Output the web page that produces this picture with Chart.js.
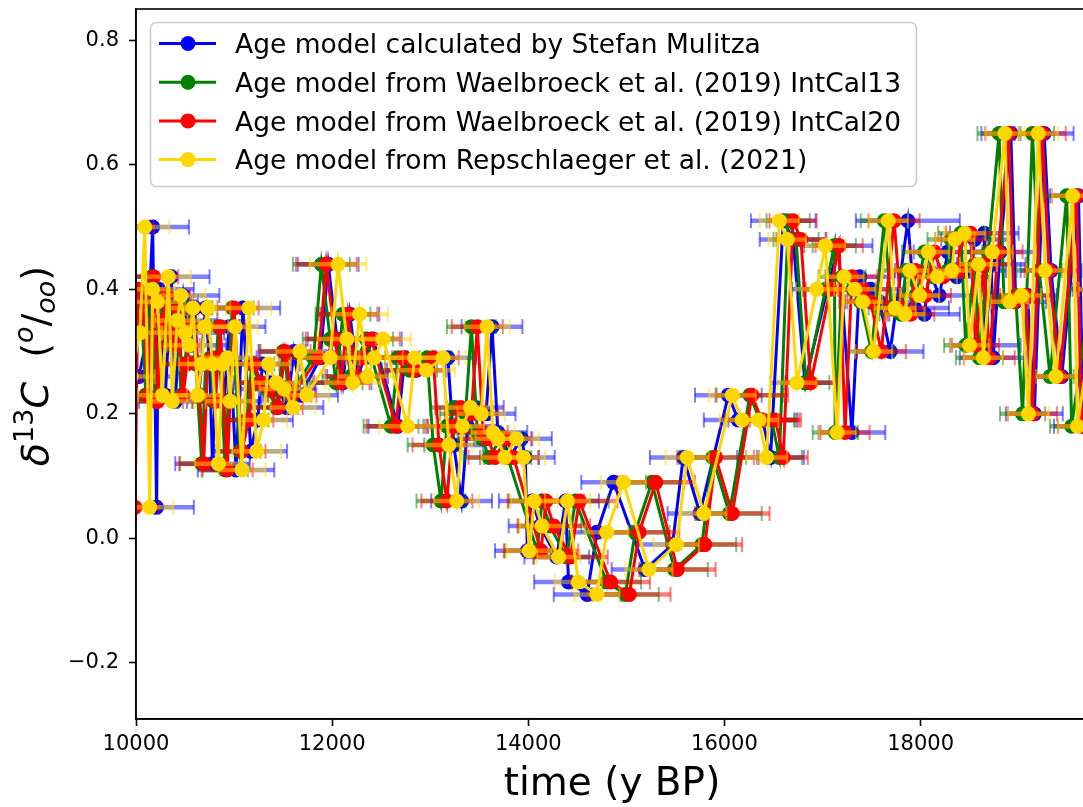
<!DOCTYPE html>
<html><head><meta charset="utf-8">
<script src="https://cdn.jsdelivr.net/npm/chart.js@4.4.1/dist/chart.umd.min.js"></script>
<style>html,body{margin:0;padding:0;overflow:hidden;background:#fff}#wrap{width:1083px;height:807px;overflow:hidden;position:relative}</style>
</head><body><div id="wrap"><canvas id="c" width="1100" height="807"></canvas></div>
<script>
// delta13C values (same samples for all four age models)
const d13C = [0.26,0.33,0.50,0.05,0.40,0.38,0.23,0.42,0.22,0.35,
0.39,0.33,0.31,0.37,0.23,0.28,0.34,0.37,0.28,0.12,
0.28,0.29,0.22,0.34,0.11,0.37,0.14,0.19,0.28,0.25,
0.24,0.21,0.30,0.23,0.29,0.44,0.32,0.25,0.36,0.26,
0.29,0.32,0.18,0.29,0.27,0.29,0.15,0.06,0.18,0.21,
0.20,0.34,0.17,0.16,0.13,0.16,0.13,-0.02,0.06,0.02,
-0.03,0.06,-0.07,-0.09,0.01,0.09,-0.05,-0.01,0.13,0.04,
0.23,0.19,0.19,0.13,0.51,0.48,0.25,0.40,0.47,0.17,
0.42,0.40,0.38,0.30,0.51,0.37,0.36,0.43,0.39,0.46,
0.42,0.43,0.48,0.49,0.31,0.44,0.29,0.46,0.65,0.38,
0.39,0.20,0.65,0.43,0.26,0.55,0.18,0.40];

const ageMulitza = [10030,10120,10170,10210,10230,10260,10300,10360,10400,10450,
10480,10520,10560,10600,10640,10670,10690,10710,10750,10780,
10820,10870,10900,10950,11020,11090,11170,11240,11290,11370,
11450,11540,11610,11680,11880,11960,12050,12110,12180,12260,
12330,12420,12670,12740,12860,13180,13240,13320,13380,13460,
13570,13630,13690,13740,13810,13930,13970,13990,14040,14120,
14290,14380,14410,14600,14700,14870,15190,15470,15580,15750,
16040,16140,16390,16470,16600,16700,16820,17050,17160,17300,
17380,17490,17580,17690,17870,17940,18040,18090,18190,18280,
18370,18520,18550,18650,18660,18720,18740,18810,18920,18970,
19090,19160,19260,19330,19440,19610,19660,19860];

const ageW13 = [9780,9870,9920,9970,10000,10050,10100,10160,10200,10250,
10290,10330,10370,10410,10460,10500,10530,10560,10610,10670,
10710,10760,10790,10840,10910,10980,11060,11130,11180,11260,
11340,11430,11500,11570,11810,11890,11980,12040,12110,12190,
12260,12350,12600,12670,12790,12970,13030,13110,13170,13250,
13360,13420,13480,13530,13600,13720,13790,14090,14140,14220,
14390,14480,14800,14990,15090,15260,15490,15770,15880,16050,
16260,16360,16480,16560,16650,16730,16830,17030,17120,17130,
17200,17310,17390,17500,17630,17700,17800,17850,17950,18040,
18130,18280,18310,18410,18460,18550,18600,18690,18800,18850,
18970,19040,19140,19210,19320,19490,19540,19740];

const ageW20 = [9800,9890,9940,9990,10020,10070,10120,10180,10220,10270,
10310,10350,10390,10430,10480,10520,10550,10580,10630,10690,
10730,10780,10810,10860,10930,11000,11080,11150,11200,11280,
11360,11450,11520,11590,11860,11940,12030,12090,12160,12240,
12310,12400,12650,12720,12840,13030,13090,13170,13230,13310,
13420,13480,13540,13590,13660,13780,13850,14130,14180,14260,
14430,14520,14840,15030,15130,15300,15520,15800,15910,16080,
16280,16380,16520,16600,16700,16780,16880,17080,17170,17230,
17300,17410,17490,17600,17730,17800,17900,17950,18050,18140,
18230,18380,18410,18510,18560,18650,18700,18790,18900,18950,
19070,19140,19240,19310,19420,19590,19640,19840];

const ageRep = [9950,10040,10090,10140,10170,10220,10270,10330,10370,10420,
10460,10500,10540,10580,10630,10670,10700,10730,10780,10840,
10880,10930,10960,11010,11080,11150,11230,11300,11350,11430,
11510,11600,11670,11740,11980,12060,12150,12210,12280,12360,
12430,12520,12770,12840,12960,13130,13190,13270,13330,13410,
13520,13580,13640,13690,13760,13880,13950,14010,14060,14140,
14310,14400,14510,14700,14800,14970,15230,15510,15620,15790,
16080,16180,16350,16430,16560,16640,16740,16940,17030,17150,
17220,17330,17410,17520,17670,17740,17840,17890,17990,18080,
18170,18320,18350,18450,18500,18590,18640,18730,18860,18910,
19030,19100,19200,19270,19380,19550,19600,19800];

// age uncertainties (years, half-width)
const errMulitza = [380,390,370,380,360,370,380,390,370,380,
370,380,360,370,380,370,360,380,370,380,
370,360,380,370,390,380,370,360,380,370,
380,370,360,380,300,310,300,290,300,310,
300,290,300,310,300,290,300,310,300,290,
300,310,300,290,300,310,300,330,340,320,
330,340,350,340,350,330,340,350,340,330,
340,350,350,340,330,340,350,360,350,340,
350,360,350,340,530,350,360,350,340,350,
360,350,340,350,360,350,340,350,300,310,
300,290,300,310,300,290,300,310];
const errW13 = [220,230,210,220,230,220,210,220,230,220,
210,220,230,220,210,220,230,220,210,220,
230,220,210,220,230,220,210,220,230,220,
210,220,230,220,280,290,280,270,280,290,
280,270,280,290,280,250,260,250,240,250,
260,250,240,250,260,250,240,330,340,320,
330,340,350,340,350,330,340,350,340,330,
340,350,240,230,220,230,240,230,220,230,
240,230,220,230,240,230,220,230,240,230,
220,230,240,230,220,230,240,230,220,230,
240,230,220,230,240,230,220,230];
const errW20 = [250,260,240,250,260,250,240,250,260,250,
240,250,260,250,240,250,260,250,240,250,
260,250,240,250,260,250,240,250,260,250,
240,250,260,250,300,310,300,290,300,310,
300,290,300,310,300,260,270,260,250,260,
270,260,250,260,270,260,250,380,390,370,
380,390,400,420,410,400,390,380,390,380,
370,380,260,250,240,250,260,250,240,250,
260,250,240,250,260,250,240,250,260,250,
240,250,260,250,240,250,260,250,240,250,
260,250,240,250,260,250,240,250];
const errRep = [240,230,250,240,230,240,250,230,240,230,
250,240,230,240,250,230,240,230,250,240,
230,240,250,230,240,230,250,240,230,240,
250,230,240,230,300,290,300,280,290,300,
290,280,290,300,290,230,240,230,220,230,
240,230,220,230,240,230,220,230,240,230,
220,230,240,230,220,230,240,230,220,230,
240,230,200,210,200,190,200,210,200,190,
200,210,200,190,200,210,200,190,200,210,
200,190,200,210,200,190,200,210,200,190,
200,210,200,190,200,210,200,190];

const seriesLabels = ['Age model calculated by Stefan Mulitza',
  'Age model from Waelbroeck et al. (2019) IntCal13',
  'Age model from Waelbroeck et al. (2019) IntCal20',
  'Age model from Repschlaeger et al. (2021)'];
const seriesColors = ['#0000ff', '#008000', '#ff0000', '#ffd700'];

const xTicks = [10000, 12000, 14000, 16000, 18000];
const xTickLabels = ['10000', '12000', '14000', '16000', '18000'];
const yTicks = [-0.2, 0.0, 0.2, 0.4, 0.6, 0.8];
const yTickLabels = ['\u22120.2', '0.0', '0.2', '0.4', '0.6', '0.8'];
const xTitle = 'time (y BP)';
// y-axis title: δ^13 C  ( ^o / _oo ) as text pieces [text, role]
const yTitleParts = [['\u03B4', 'main-it'], ['13', 'sup'], ['C', 'main-it'], ['  (', 'main'],
                     ['o', 'sup-it'], ['/', 'main'], ['oo', 'sub-it'], [')', 'main']];

const seriesDefs = [
  {ages: ageMulitza, err: errMulitza, order: 4},
  {ages: ageW13, err: errW13, order: 3},
  {ages: ageW20, err: errW20, order: 2},
  {ages: ageRep, err: errRep, order: 1}
].map((s, i) => Object.assign(s, {label: seriesLabels[i], color: seriesColors[i]}));

function rgba(hex, a) {
  const n = parseInt(hex.slice(1), 16);
  return 'rgba(' + ((n >> 16) & 255) + ',' + ((n >> 8) & 255) + ',' + (n & 255) + ',' + a + ')';
}

const FONT = "'DejaVu Sans', sans-serif";
Chart.defaults.font.family = FONT;
Chart.defaults.color = '#000';

const errorBars = {
  id: 'errorBars',
  beforeDatasetDraw(chart, args) {
    const s = seriesDefs[args.index];
    const xs = chart.scales.x, ys = chart.scales.y, a = chart.chartArea, ctx = chart.ctx;
    ctx.save();
    ctx.beginPath();
    ctx.rect(a.left, a.top, a.right - a.left, a.bottom - a.top);
    ctx.clip();
    ctx.strokeStyle = rgba(s.color, 0.5);
    s.ages.forEach((age, i) => {
      const x0 = xs.getPixelForValue(age - s.err[i]);
      const x1 = xs.getPixelForValue(age + s.err[i]);
      const y = ys.getPixelForValue(d13C[i]);
      ctx.lineWidth = 4.5;
      ctx.beginPath(); ctx.moveTo(x0, y); ctx.lineTo(x1, y); ctx.stroke();
      ctx.lineWidth = 2;
      ctx.beginPath(); ctx.moveTo(x0, y - 7.5); ctx.lineTo(x0, y + 7.5); ctx.stroke();
      ctx.beginPath(); ctx.moveTo(x1, y - 7.5); ctx.lineTo(x1, y + 7.5); ctx.stroke();
    });
    ctx.restore();
  }
};

const spines = {
  id: 'spines',
  afterDatasetsDraw(chart) {
    const a = chart.chartArea, ctx = chart.ctx;
    ctx.save();
    ctx.strokeStyle = '#000';
    ctx.lineWidth = 1.6;
    ctx.strokeRect(a.left, a.top, a.right - a.left, a.bottom - a.top);
    ctx.restore();
  }
};

const yTitleDraw = {
  id: 'yTitleDraw',
  afterDraw(chart) {
    const ctx = chart.ctx, a = chart.chartArea;
    const roles = {
      'main': {font: "normal 38px " + FONT, dy: 0},
      'main-it': {font: "italic 38px " + FONT, dy: 0},
      'sup': {font: "normal 27px " + FONT, dy: -15},
      'sup-it': {font: "italic 27px " + FONT, dy: -15},
      'sub-it': {font: "italic 27px " + FONT, dy: 7}
    };
    ctx.save();
    let total = 0;
    const w = yTitleParts.map(p => { ctx.font = roles[p[1]].font; const m = ctx.measureText(p[0]).width; total += m; return m; });
    ctx.translate(47.5, (a.top + a.bottom) / 2 + 2);
    ctx.rotate(-Math.PI / 2);
    ctx.fillStyle = '#000';
    ctx.textBaseline = 'alphabetic';
    ctx.textAlign = 'left';
    let x = -total / 2;
    yTitleParts.forEach((p, i) => {
      ctx.font = roles[p[1]].font;
      ctx.fillText(p[0], x, roles[p[1]].dy);
      x += w[i];
    });
    ctx.restore();
  }
};

const legendBox = {
  id: 'legendBox',
  afterDraw(chart) {
    const ctx = chart.ctx;
    ctx.save();
    const bx = 150.5, by = 22.5, bw = 766, bh = 164, r = 6;
    ctx.beginPath();
    ctx.moveTo(bx + r, by);
    ctx.arcTo(bx + bw, by, bx + bw, by + bh, r);
    ctx.arcTo(bx + bw, by + bh, bx, by + bh, r);
    ctx.arcTo(bx, by + bh, bx, by, r);
    ctx.arcTo(bx, by, bx + bw, by, r);
    ctx.closePath();
    ctx.fillStyle = 'rgba(255,255,255,0.8)';
    ctx.fill();
    ctx.strokeStyle = '#cccccc';
    ctx.lineWidth = 1.6;
    ctx.stroke();
    ctx.font = "26.5px " + FONT;
    ctx.textBaseline = 'alphabetic';
    ctx.textAlign = 'left';
    seriesDefs.forEach((s, i) => {
      const yl = 43.5 + i * 38.7;
      ctx.strokeStyle = s.color;
      ctx.lineWidth = 3;
      ctx.beginPath(); ctx.moveTo(159, yl); ctx.lineTo(216, yl); ctx.stroke();
      ctx.fillStyle = s.color;
      ctx.beginPath(); ctx.arc(188, yl, 7.5, 0, Math.PI * 2); ctx.fill();
      ctx.fillStyle = '#000';
      ctx.fillText(s.label, 235, yl + 9.7);
    });
    ctx.restore();
  }
};

new Chart(document.getElementById('c'), {
  type: 'line',
  data: {
    datasets: seriesDefs.map(s => ({
      label: s.label,
      data: s.ages.map((a, i) => ({x: a, y: d13C[i]})),
      borderColor: s.color,
      backgroundColor: s.color,
      pointBackgroundColor: s.color,
      pointBorderColor: s.color,
      pointBorderWidth: 0,
      pointRadius: 7.5,
      borderWidth: 3,
      tension: 0,
      clip: 0,
      order: s.order
    }))
  },
  options: {
    responsive: false,
    animation: false,
    devicePixelRatio: 1,
    events: [],
    layout: {padding: {top: 9, right: 12, left: 0, bottom: 0}},
    plugins: {legend: {display: false}, tooltip: {enabled: false}},
    scales: {
      x: {
        type: 'linear', min: 10000, max: 19707,
        afterBuildTicks: s => { s.ticks = xTicks.map(v => ({value: v})); },
        afterFit: s => { s.height = 88; s.paddingLeft = 0; s.paddingRight = 0; },
        ticks: {font: {size: 21}, color: '#000', padding: 6, autoSkip: false, maxRotation: 0,
                callback: (v, i) => xTickLabels[i]},
        grid: {drawOnChartArea: false, tickLength: 7, tickColor: '#000', tickWidth: 1.6, color: '#000'},
        border: {color: '#000', width: 1.6},
        title: {display: true, text: xTitle, color: '#000', font: {size: 39, lineHeight: 1}, padding: {top: 0, bottom: 3}}
      },
      y: {
        type: 'linear', min: -0.29, max: 0.85,
        afterBuildTicks: s => { s.ticks = yTicks.map(v => ({value: v})); },
        afterFit: s => { s.width = 136; s.paddingTop = 0; s.paddingBottom = 0; },
        ticks: {font: {size: 21}, color: '#000', padding: 10, autoSkip: false,
                callback: (v, i) => yTickLabels[i]},
        grid: {drawOnChartArea: false, tickLength: 7, tickColor: '#000', tickWidth: 1.6, color: '#000'},
        border: {color: '#000', width: 1.6},
        title: {display: false}
      }
    }
  },
  plugins: [errorBars, spines, yTitleDraw, legendBox]
});
</script>
</body></html>
